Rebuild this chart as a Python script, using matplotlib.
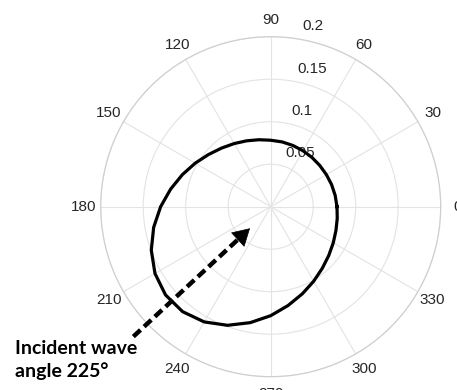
import numpy as np
import matplotlib
matplotlib.use("Agg")
import matplotlib.pyplot as plt

# ---- data ----
theta_deg = [0, 10, 20, 30, 40, 50, 60, 70, 80, 90, 100, 110, 120, 130, 140, 150,
             160, 170, 180, 190, 200, 210, 220, 230, 240, 250, 260, 270, 280, 290,
             300, 310, 320, 330, 340, 350]
radius = [0.0780, 0.0770, 0.0762, 0.0756, 0.0754, 0.0756, 0.0760, 0.0766, 0.0774,
          0.0782, 0.0800, 0.0825, 0.0858, 0.0900, 0.0955, 0.1025, 0.1105, 0.1195,
          0.1295, 0.1398, 0.1495, 0.1572, 0.1615, 0.1612, 0.1565, 0.1485, 0.1385,
          0.1282, 0.1180, 0.1090, 0.1012, 0.0945, 0.0892, 0.0850, 0.0817, 0.0795]
r_ticks = [0.05, 0.1, 0.15, 0.2]
r_tick_labels = ["0.05", "0.1", "0.15", "0.2"]
theta_ticks = [0, 30, 60, 90, 120, 150, 180, 210, 240, 270, 300, 330]
theta_tick_labels = ["0", "30", "60", "90", "120", "150", "180", "210", "240", "270", "300", "330"]
r_max = 0.2
arrow_tail = (223.4, 0.2224)   # (deg, r)
arrow_tip = (226.2, 0.0352)
annotation_lines = ["Incident wave", "angle 225°"]

W, H = 457, 390
fig = plt.figure(figsize=(W / 100, H / 100), dpi=100)
cx, cy, R = 270.7, 206.7, 170.0
ax = fig.add_axes([(cx - R) / W, (H - cy - R) / H, 2 * R / W, 2 * R / H], projection="polar")
ax.set_ylim(0, r_max)

th = np.deg2rad(theta_deg + [theta_deg[0]])
rr = radius + [radius[0]]
ax.plot(th, rr, color="black", lw=2.3, solid_joinstyle="round", zorder=5)

# grid
ax.set_xticks(np.deg2rad(theta_ticks))
ax.set_xticklabels([])
ax.set_yticks(r_ticks)
ax.set_yticklabels([])
ax.grid(True, color="#e3e3e3", lw=0.8)
ax.spines["polar"].set_color("#cfcfcf")
ax.spines["polar"].set_linewidth(0.9)
ax.tick_params(length=0)

tick_font = dict(family=["Liberation Sans", "DejaVu Sans"], fontsize=11, color="#262626")
for t, lab in zip(theta_ticks, theta_tick_labels):
    ax.text(np.deg2rad(t), 0.22, lab, ha="center", va="center", clip_on=False, **tick_font)

r_label_pos = {"0.05": (61.0, 0.0719), "0.1": (72.0, 0.118), "0.15": (73.45, 0.1694), "0.2": (76.8, 0.2181)}
for lab in r_tick_labels:
    a, r = r_label_pos[lab]
    ax.text(np.deg2rad(a), r, lab, ha="center", va="center", clip_on=False, zorder=4, **tick_font)

# dashed arrow shaft
tail_xy = (np.deg2rad(arrow_tail[0]), arrow_tail[1])
tip_xy = (np.deg2rad(arrow_tip[0]), arrow_tip[1])
p_tail = ax.transData.transform(tail_xy)
p_tip = ax.transData.transform(tip_xy)
inv = ax.transData.inverted()
base_xy = inv.transform(p_tail + (p_tip - p_tail) * 0.9)
ax.annotate("", xy=base_xy, xytext=tail_xy, xycoords="data", textcoords="data",
            arrowprops=dict(arrowstyle="-", lw=3.2, color="black", linestyle=(0, (2.2, 1.1)),
                            shrinkA=0, shrinkB=0, capstyle="butt"),
            annotation_clip=False, zorder=6)
head_xy = inv.transform(p_tail + (p_tip - p_tail) * 0.86)
ax.annotate("", xy=tip_xy, xytext=head_xy, xycoords="data", textcoords="data",
            arrowprops=dict(arrowstyle="-|>,head_length=0.95,head_width=0.55", lw=0.5, color="black",
                            mutation_scale=12, shrinkA=0, shrinkB=0),
            annotation_clip=False, zorder=6)

lab_font = dict(family=["Lato", "DejaVu Sans"], fontsize=14, fontweight="bold", color="black")
fig.text(15 / W, (H - 354) / H, annotation_lines[0], ha="left", va="baseline", **lab_font)
fig.text(15 / W, (H - 377.5) / H, annotation_lines[1], ha="left", va="baseline", **lab_font)

fig.savefig("out.png", dpi=100)
